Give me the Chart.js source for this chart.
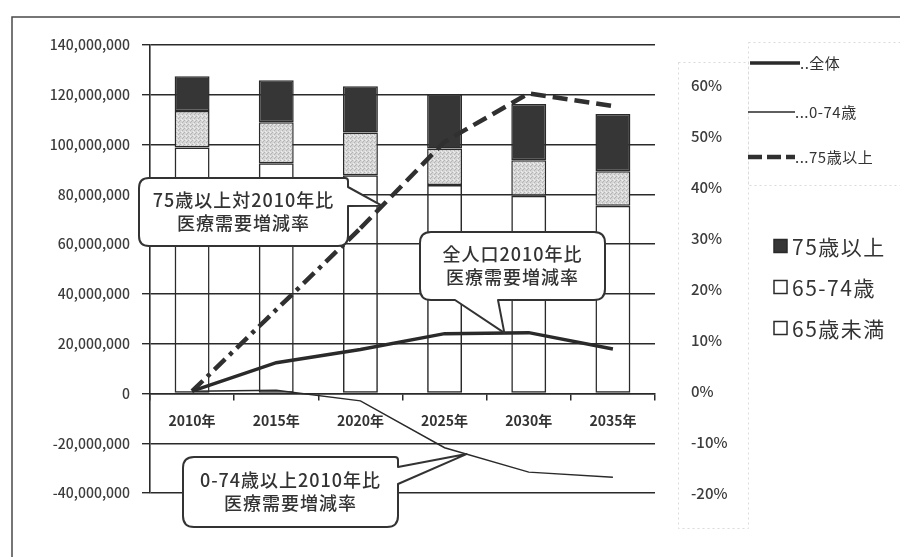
<!DOCTYPE html>
<html lang="ja">
<head>
<meta charset="utf-8">
<title>医療需要増減率</title>
<script src="https://cdn.jsdelivr.net/npm/chart.js@4.4.1/dist/chart.umd.min.js"></script>
<style>
    html, body { margin: 0; padding: 0; background: #fff; }
    #wrap { width: 900px; height: 557px; }
</style>
</head>
<body>
<div id="wrap"><canvas id="demandChart" width="900" height="557"></canvas></div>
<script>
// population by age group (persons)
const categories = ["2010年", "2015年", "2020年", "2025年", "2030年", "2035年"];
const under65 = [98800000, 92500000, 87700000, 83700000, 79400000, 75400000];
const age65to74 = [14700000, 16500000, 17100000, 14700000, 14300000, 13900000];
const age75plus = [13900000, 16800000, 18600000, 21800000, 22600000, 23000000];

// medical demand change vs 2010 (right axis)
const rateAll = [0, 0.056, 0.082, 0.113, 0.115, 0.083];
const rateUnder75 = [0, 0.002, -0.019, -0.111, -0.159, -0.169];
const rate75plus = [0, 0.16, 0.32, 0.49, 0.585, 0.56];

const lineLegendLabels = ["..全体", "...0-74歳", "...75歳以上"];
const barLegendLabels = ["75歳以上", "65-74歳", "65歳未満"];
const calloutTexts = [
    ["75歳以上対2010年比", "医療需要増減率"],
    ["全人口2010年比", "医療需要増減率"],
    ["0-74歳以上2010年比", "医療需要増減率"]
];

const FONT = '"Noto Sans CJK JP", "Noto Sans", sans-serif';
const INK = "#2a2a2a";
const LABEL = "#3c3c3c";

Chart.defaults.font.family = FONT;

const canvas = document.getElementById("demandChart");

function makeGrainPattern() {
    const tile = document.createElement("canvas");
    tile.width = 4;
    tile.height = 4;
    const g = tile.getContext("2d");
    g.fillStyle = "#d6d6d6";
    g.fillRect(0, 0, 4, 4);
    g.fillStyle = "#b4b4b4";
    g.fillRect(0, 0, 1, 1);
    g.fillRect(2, 2, 1, 1);
    g.fillRect(3, 1, 1, 1);
    g.fillStyle = "#efefef";
    g.fillRect(1, 3, 1, 1);
    g.fillRect(2, 0, 1, 1);
    return canvas.getContext("2d").createPattern(tile, "repeat");
}

// point somewhere along a line segment between two data points
function pointOnLine(chart, datasetIndex, i, t) {
    const pts = chart.getDatasetMeta(datasetIndex).data;
    const a = pts[i], b = pts[i + 1];
    return { x: a.x + (b.x - a.x) * t, y: a.y + (b.y - a.y) * t };
}

// rounded speech bubble, tail on the right edge or on the bottom edge
function bubblePath(ctx, box, tail) {
    const { x, y, w, h, r } = box;
    const rTR = box.rTR !== undefined ? box.rTR : r;
    ctx.beginPath();
    ctx.moveTo(x + r, y);
    ctx.lineTo(x + w - rTR, y);
    ctx.quadraticCurveTo(x + w, y, x + w, y + rTR);
    if (tail.side === "right") {
        ctx.lineTo(x + w, tail.a);
        ctx.lineTo(tail.tip.x, tail.tip.y);
        ctx.lineTo(x + w, tail.b);
    }
    ctx.lineTo(x + w, y + h - r);
    ctx.quadraticCurveTo(x + w, y + h, x + w - r, y + h);
    if (tail.side === "bottom") {
        ctx.lineTo(tail.b, y + h);
        ctx.lineTo(tail.tip.x, tail.tip.y);
        ctx.lineTo(tail.a, y + h);
    }
    ctx.lineTo(x + r, y + h);
    ctx.quadraticCurveTo(x, y + h, x, y + h - r);
    ctx.lineTo(x, y + r);
    ctx.quadraticCurveTo(x, y, x + r, y);
    ctx.closePath();
}

const framePlugin = {
    id: "frame",
    beforeDraw(chart) {
        const ctx = chart.ctx;
        ctx.save();
        ctx.fillStyle = "#fff";
        ctx.fillRect(0, 0, chart.width, chart.height);

        // faint dotted boxes around the right axis and the line legend
        ctx.strokeStyle = "#dadada";
        ctx.lineWidth = 1;
        ctx.setLineDash([2, 3]);
        ctx.strokeRect(678.5, 62.5, 70, 466);
        ctx.strokeRect(748.5, 42.5, 160, 143);
        ctx.setLineDash([]);

        ctx.strokeStyle = "#4a4a4a";
        ctx.lineWidth = 1.5;
        ctx.beginPath();
        ctx.moveTo(12, chart.height);
        ctx.lineTo(12, 17);
        ctx.lineTo(chart.width, 17);
        ctx.stroke();
        ctx.restore();
    }
};

const calloutPlugin = {
    id: "callouts",
    afterDraw(chart) {
        const ctx = chart.ctx;
        const callouts = [
            {
                box: { x: 139, y: 178, w: 209, h: 68, r: 10, rTR: 3 },
                tail: { side: "right", a: 187, b: 206, tip: pointOnLine(chart, 2, 2, 0.26) }
            },
            {
                box: { x: 420, y: 232, w: 185, h: 68, r: 11 },
                tail: { side: "bottom", a: 455, b: 498, tip: pointOnLine(chart, 0, 3, 0.71) }
            },
            {
                box: { x: 183, y: 457, w: 215, h: 70, r: 11, rTR: 3 },
                tail: { side: "right", a: 467, b: 484, tip: pointOnLine(chart, 1, 3, 0.26) }
            }
        ];
        ctx.save();
        callouts.forEach((c, i) => {
            bubblePath(ctx, c.box, c.tail);
            ctx.fillStyle = "#fff";
            ctx.fill();
            ctx.strokeStyle = "#333";
            ctx.lineWidth = 2;
            ctx.lineJoin = "round";
            ctx.stroke();

            const cx = c.box.x + c.box.w / 2;
            const cy = c.box.y + c.box.h / 2;
            ctx.fillStyle = "#333";
            ctx.font = "500 18px " + FONT;
            ctx.letterSpacing = "1px";
            ctx.textAlign = "center";
            ctx.textBaseline = "middle";
            ctx.fillText(calloutTexts[i][0], cx, cy - 11.5);
            ctx.fillText(calloutTexts[i][1], cx, cy + 11.5);
            ctx.letterSpacing = "0px";
        });
        ctx.restore();
    }
};

const legendPlugin = {
    id: "sideLegend",
    afterDraw(chart) {
        const ctx = chart.ctx;
        const ds = chart.data.datasets;
        ctx.save();
        ctx.textBaseline = "middle";
        ctx.textAlign = "left";

        // line series
        const lineRows = [
            { d: ds[0], y: 63, x0: 750, x1: 800 },
            { d: ds[1], y: 112, x0: 748, x1: 795 },
            { d: ds[2], y: 157, x0: 748, x1: 795 }
        ];
        lineRows.forEach((row, i) => {
            ctx.strokeStyle = row.d.borderColor;
            ctx.lineWidth = row.d.borderWidth;
            ctx.setLineDash(i === 2 ? [14, 5] : []);
            ctx.beginPath();
            ctx.moveTo(row.x0, row.y);
            ctx.lineTo(row.x1, row.y);
            ctx.stroke();
            ctx.setLineDash([]);
            ctx.fillStyle = "#333";
            ctx.font = "15px " + FONT;
            ctx.letterSpacing = "0.5px";
            ctx.fillText(lineLegendLabels[i], row.x1, row.y);
        });

        // bar series, top segment first
        const barRows = [
            { d: ds[5], y: 246 },
            { d: ds[4], y: 287 },
            { d: ds[3], y: 328 }
        ];
        barRows.forEach((row, i) => {
            ctx.fillStyle = i === 0 ? row.d.backgroundColor : "#fff";
            ctx.fillRect(774, row.y - 6.5, 13, 13);
            ctx.strokeStyle = INK;
            ctx.lineWidth = 1.5;
            ctx.strokeRect(774, row.y - 6.5, 13, 13);
            ctx.fillStyle = "#333";
            ctx.font = "21px " + FONT;
            ctx.letterSpacing = "1.5px";
            ctx.fillText(barLegendLabels[i], 792, row.y + 1);
        });
        ctx.letterSpacing = "0px";
        ctx.restore();
    }
};

const grain = makeGrainPattern();

new Chart(canvas, {
    type: "bar",
    data: {
        labels: categories,
        datasets: [
            {
                type: "line",
                label: "全体",
                data: rateAll,
                yAxisID: "y1",
                borderColor: INK,
                borderWidth: 3.5,
                pointRadius: 0,
                tension: 0,
                order: 0
            },
            {
                type: "line",
                label: "0-74歳",
                data: rateUnder75,
                yAxisID: "y1",
                borderColor: INK,
                borderWidth: 1.5,
                pointRadius: 0,
                tension: 0,
                order: 0
            },
            {
                type: "line",
                label: "75歳以上",
                data: rate75plus,
                yAxisID: "y1",
                borderColor: "#303030",
                borderWidth: 4.5,
                borderDash: [14, 7],
                segment: {
                    borderDash: ctx => ctx.p0DataIndex < 2 ? [15, 6, 4, 6] : [15, 7]
                },
                pointRadius: 0,
                tension: 0,
                order: 0
            },
            {
                label: "65歳未満",
                data: under65,
                yAxisID: "y",
                backgroundColor: "rgba(255,255,255,0)",
                borderColor: INK,
                borderWidth: 1.5,
                borderSkipped: false,
                order: 1
            },
            {
                label: "65-74歳",
                data: age65to74,
                yAxisID: "y",
                backgroundColor: grain,
                borderColor: INK,
                borderWidth: 1.5,
                borderSkipped: false,
                order: 1
            },
            {
                label: "75歳以上",
                data: age75plus,
                yAxisID: "y",
                backgroundColor: "#363636",
                borderColor: INK,
                borderWidth: 1.5,
                borderSkipped: false,
                order: 1
            }
        ]
    },
    options: {
        responsive: false,
        devicePixelRatio: 1,
        animation: false,
        barPercentage: 0.415,
        categoryPercentage: 1,
        layout: {
            padding: { top: 40, bottom: 64, left: 0, right: 0 }
        },
        plugins: {
            legend: { display: false },
            tooltip: { enabled: false }
        },
        scales: {
            x: {
                stacked: true,
                position: { y: 0 },
                grid: {
                    drawOnChartArea: false,
                    drawTicks: true,
                    tickLength: 6,
                    color: INK,
                    lineWidth: 1.5
                },
                border: { display: true, color: INK, width: 1.5 },
                ticks: {
                    color: "#333",
                    padding: 13,
                    font: { size: 14, weight: "600" }
                }
            },
            y: {
                stacked: true,
                min: -40000000,
                max: 140000000,
                ticks: {
                    stepSize: 20000000,
                    color: LABEL,
                    padding: 12,
                    font: { size: 14, weight: "500" },
                    callback: value => value.toLocaleString("en-US")
                },
                grid: {
                    color: INK,
                    lineWidth: 1.4,
                    tickLength: 8
                },
                border: { display: true, color: INK, width: 1.6 },
                afterFit: scale => { scale.width = 150; }
            },
            y1: {
                position: "right",
                min: -0.2,
                max: 0.68,
                ticks: {
                    stepSize: 0.1,
                    includeBounds: false,
                    color: LABEL,
                    padding: 36,
                    font: { size: 15, weight: "500" },
                    callback: value => Math.round(value * 100) + "%"
                },
                grid: { drawOnChartArea: false, drawTicks: false },
                border: { display: false },
                afterFit: scale => { scale.width = 245; }
            }
        }
    },
    plugins: [framePlugin, calloutPlugin, legendPlugin]
});
</script>
</body>
</html>
